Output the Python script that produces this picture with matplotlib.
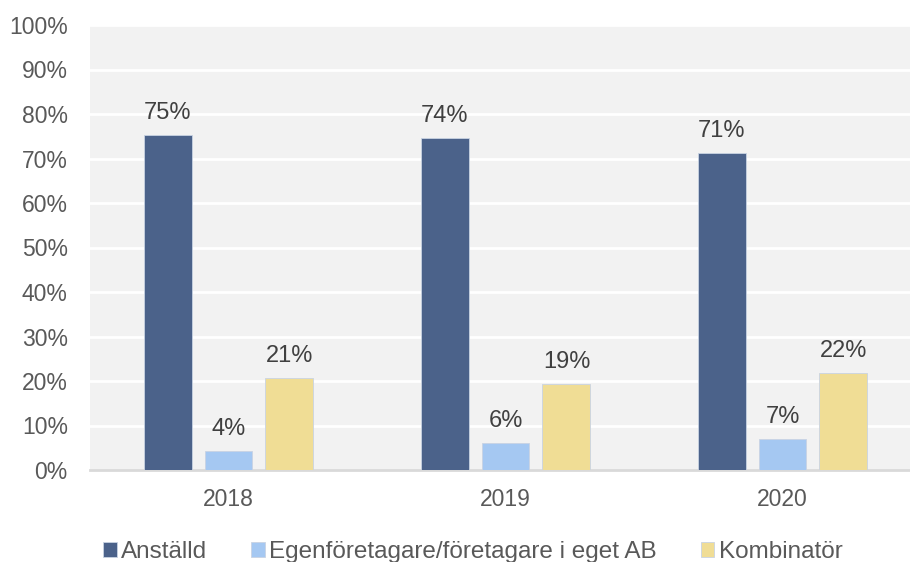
import matplotlib.pyplot as plt
import numpy as np

plt.rcParams['font.family'] = ['Liberation Sans', 'DejaVu Sans']

years = ['2018', '2019', '2020']
series = ['Anställd', 'Egenföretagare/företagare i eget AB', 'Kombinatör']
anstalld = [75.2, 74.6, 71.2]
egen = [4.3, 6.1, 7.0]
kombinator = [20.6, 19.3, 21.8]
labels_anstalld = ['75%', '74%', '71%']
labels_egen = ['4%', '6%', '7%']
labels_kombinator = ['21%', '19%', '22%']
colors = ['#4b628a', '#a5c8f2', '#f0dd95']

fig = plt.figure(figsize=(9.1, 5.62), dpi=100)
ax = fig.add_axes([90 / 910, 92 / 562, 831 / 910, 445 / 562])
ax.set_facecolor('#f2f2f2')

x = np.arange(len(years))
w = 0.173
step = 0.22
data = [anstalld, egen, kombinator]
texts = [labels_anstalld, labels_egen, labels_kombinator]
for i, (vals, labs) in enumerate(zip(data, texts)):
    bars = ax.bar(x + (i - 1) * step, vals, w, color=colors[i], label=series[i],
                  edgecolor='#c9d3e3', linewidth=0.6, zorder=3)
    for b, lab in zip(bars, labs):
        ax.annotate(lab, (b.get_x() + b.get_width() / 2, b.get_height()),
                    xytext=(0, 8), textcoords='offset points',
                    ha='center', va='bottom', fontsize=17, color='#404040')

ax.set_xlim(-0.5, 2.5)
ax.set_ylim(0, 100)
ax.set_yticks(np.arange(0, 101, 10))
ax.set_yticklabels([f'{v}%' for v in range(0, 101, 10)])
ax.set_xticks(x)
ax.set_xticklabels(years)
ax.tick_params(axis='both', length=0, labelsize=16.5, colors='#595959')
ax.tick_params(axis='y', pad=16)
ax.tick_params(axis='x', pad=13)
ax.grid(axis='y', color='white', linewidth=2, zorder=0)
ax.set_axisbelow(True)
for s in ['top', 'right', 'left']:
    ax.spines[s].set_visible(False)
ax.spines['bottom'].set_color('#d9d9d9')
ax.spines['bottom'].set_linewidth(2)

fig.legend(loc='center', bbox_to_anchor=(473 / 910, 1 - 552 / 562), ncol=3,
           frameon=False, fontsize=17.5, handlelength=0.55, handleheight=0.55,
           handletextpad=0.2, columnspacing=1.8, labelcolor='#595959')

fig.savefig('out.png', dpi=100)
